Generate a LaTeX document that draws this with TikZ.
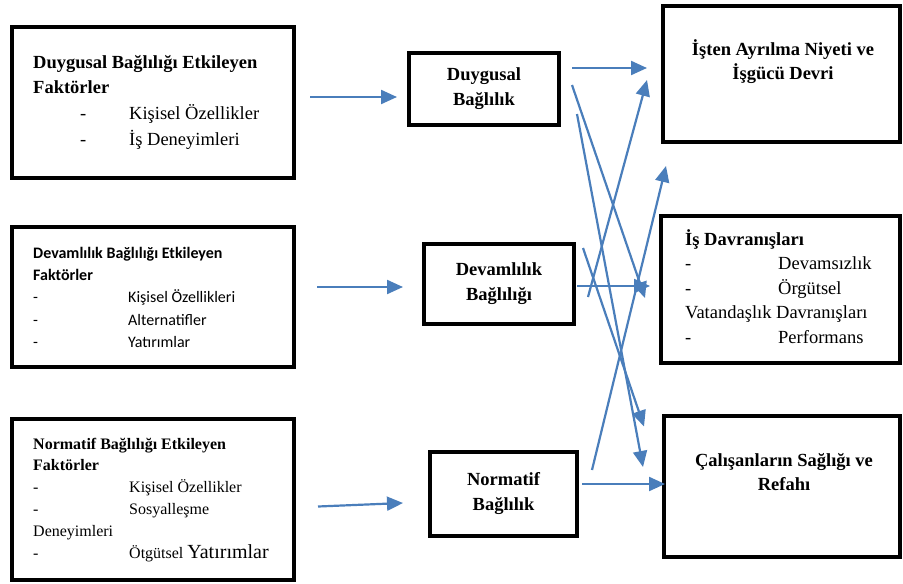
\documentclass[tikz,border=0pt]{standalone}
\usepackage{fontspec}
\setmainfont{Liberation Serif}
\newfontfamily\calibrifont{Carlito}
\usepackage{tikz}
\usetikzlibrary{arrows.meta, positioning}
\usepackage{xcolor}
\definecolor{arrowblue}{RGB}{74,126,187}
\newcommand{\listdash}[1]{\makebox[#1][l]{-}}

\begin{document}
\begin{tikzpicture}[
  x=1pt, y=-1pt,
  box/.style={draw, line width=4pt, inner sep=0pt},
  mainbox/.style={box, align=center, font=\bfseries\fontsize{18.5}{25}\selectfont},
  txt/.style={inner sep=0pt, font=\fontsize{18.5}{25.7}\selectfont},
  arrow/.style={-{Triangle[length=16pt, width=14pt]}, line width=2.2pt, arrowblue}
]
  \useasboundingbox (0,0) rectangle (903,584);

  % Factor boxes
  \node[box, minimum width=282pt, minimum height=151pt] (fDuy) at (153,102.5) {};
  \node[box, minimum width=282pt, minimum height=140pt] (fDev) at (153,297) {};
  \node[box, minimum width=282pt, minimum height=161pt] (fNor) at (153,499.5) {};

  \node[txt, anchor=north west, align=left] (fDuyT)
    at ([xshift=23pt, yshift=-25pt]fDuy.north west)
    {\strut\textbf{Duygusal Bağlılığı Etkileyen}\\
     \textbf{Faktörler}\\
     \hspace*{47pt}\listdash{49pt}Kişisel Özellikler\\
     \hspace*{47pt}\listdash{49pt}İş Deneyimleri};
  \node[txt, anchor=north west, align=left,
        font=\calibrifont\fontsize{16}{22.3}\selectfont] (fDevT)
    at ([xshift=23pt, yshift=-17.4pt]fDev.north west)
    {\strut\textbf{Devamlılık Bağlılığı Etkileyen}\\
     \textbf{Faktörler}\\
     \listdash{95pt}Kişisel Özellikleri\\
     \listdash{95pt}Alternatifler\\
     \listdash{95pt}Yatırımlar};
  \node[txt, anchor=north west, align=left,
        font=\fontsize{16}{21.8}\selectfont] (fNorT)
    at ([xshift=23pt, yshift=-16.7pt]fNor.north west)
    {\strut\textbf{Normatif Bağlılığı Etkileyen}\\
     \textbf{Faktörler}\\
     \listdash{96pt}Kişisel Özellikler\\
     \listdash{96pt}Sosyalleşme\\
     Deneyimleri\\
     \listdash{96pt}Ötgütsel {\fontsize{20}{21.8}\selectfont Yatırımlar}};

  % Commitment boxes
  \node[mainbox, minimum width=150pt, minimum height=72pt] (bDuy) at (484,89) {Duygusal\\Bağlılık};
  \node[mainbox, minimum width=150pt, minimum height=80pt] (bDev) at (499,284) {Devamlılık\\Bağlılığı};
  \node[mainbox, minimum width=147pt, minimum height=84pt] (bNor) at (503.5,494) {Normatif\\Bağlılık};

  % Outcome boxes
  \node[box, minimum width=237pt, minimum height=136pt] (rAyr) at (781.5,74) {};
  \node[box, minimum width=239pt, minimum height=147pt] (rDav) at (780.5,289.5) {};
  \node[box, minimum width=236pt, minimum height=141pt] (rSag) at (782,486.5) {};

  \node[txt, anchor=north, align=center, font=\bfseries\fontsize{18.5}{24.5}\selectfont] (rAyrT)
    at ([xshift=1.5pt, yshift=-33.9pt]rAyr.north)
    {\strut İşten Ayrılma Niyeti ve\\İşgücü Devri};
  \node[txt, anchor=north west, align=left, font=\fontsize{18.5}{24.5}\selectfont] (rDavT)
    at ([xshift=26pt, yshift=-13.9pt]rDav.north west)
    {\strut\textbf{İş Davranışları}\\
     \listdash{93pt}Devamsızlık\\
     \listdash{93pt}Örgütsel\\
     Vatandaşlık Davranışları\\
     \listdash{93pt}Performans};
  \node[txt, anchor=north, align=center, font=\bfseries\fontsize{18.5}{24}\selectfont] (rSagT)
    at ([xshift=2pt, yshift=-35.2pt]rSag.north)
    {\strut Çalışanların Sağlığı ve\\Refahı};

  % Arrows
  \draw[arrow] ([xshift=14pt, yshift=5.5pt]fDuy.east) -- ([xshift=-10pt, yshift=-8pt]bDuy.west);
  \draw[arrow] ([xshift=21pt, yshift=10pt]fDev.east) -- ([xshift=-19pt, yshift=-3pt]bDev.west);
  \draw[arrow] ([xshift=22pt, yshift=-7pt]fNor.east) -- ([xshift=-25pt, yshift=-9pt]bNor.west);

  \draw[arrow] ([xshift=11pt, yshift=21pt]bDuy.east) -- ([xshift=-14pt, yshift=6pt]rAyr.west);
  \draw[arrow] ([xshift=11pt, yshift=4pt]bDuy.east) -- ([xshift=-14pt, yshift=-8.5pt]rDav.west);
  \draw[arrow] ([xshift=16pt, yshift=-25pt]bDuy.east) -- ([xshift=-19pt, yshift=19.5pt]rSag.west);

  \draw[arrow] ([xshift=1pt, yshift=-2pt]bDev.east) -- ([xshift=-9pt, yshift=3.5pt]rDav.west);
  \draw[arrow] ([xshift=12pt, yshift=-13pt]bDev.east) -- ([xshift=-14pt, yshift=-6pt]rAyr.west);
  \draw[arrow] ([xshift=7pt, yshift=36pt]bDev.east) -- ([xshift=-18pt, yshift=60pt]rSag.west);

  \draw[arrow] ([xshift=3pt, yshift=10pt]bNor.east) -- ([xshift=3pt, yshift=2.5pt]rSag.west);
  \draw[arrow] ([xshift=13pt, yshift=24pt]bNor.east) -- ([xshift=5pt, yshift=-22pt]rAyr.south west);
\end{tikzpicture}
\end{document}
